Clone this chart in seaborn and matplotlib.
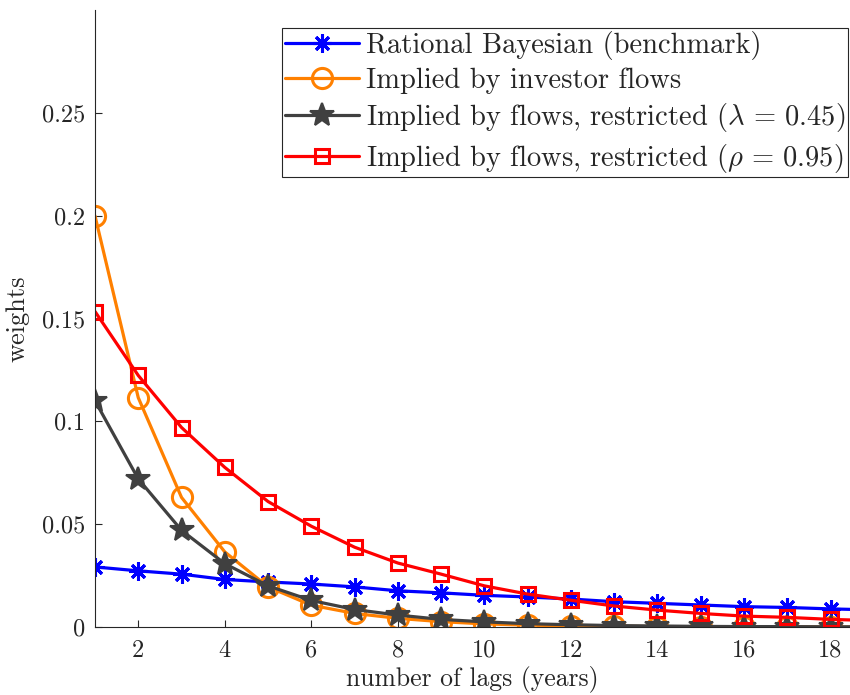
"""
Lag weights: rational benchmark vs. weights implied by investor flows
"""

import numpy as np
import pandas as pd
import matplotlib
matplotlib.use("Agg")
import matplotlib.pyplot as plt
import seaborn as sns

# Data
lags = [1, 2, 3, 4, 5, 6, 7, 8, 9, 10, 11, 12, 13, 14, 15, 16, 17, 18, 19, 20]

rational = [0.0292, 0.0273, 0.0257, 0.0231, 0.0219, 0.0209, 0.0195, 0.0176, 0.0166, 0.0154,
            0.0146, 0.0136, 0.0123, 0.0115, 0.0107, 0.0099, 0.0095, 0.0088, 0.0083, 0.0078]
flows = [0.1999, 0.1115, 0.0630, 0.0365, 0.0195, 0.0106, 0.0066, 0.0042, 0.0026, 0.0015,
         0.0009, 0.0006, 0.0004, 0.0002, 0.0001, 0.0001, 0.0001, 0.0000, 0.0000, 0.0000]
flows_lambda = [0.1100, 0.0720, 0.0470, 0.0308, 0.0200, 0.0129, 0.0085, 0.0058, 0.0037, 0.0025,
                0.0016, 0.0011, 0.0007, 0.0005, 0.0003, 0.0002, 0.0002, 0.0001, 0.0001, 0.0001]
flows_rho = [0.1534, 0.1223, 0.0970, 0.0776, 0.0610, 0.0490, 0.0388, 0.0311, 0.0257, 0.0200,
             0.0160, 0.0130, 0.0102, 0.0082, 0.0066, 0.0053, 0.0047, 0.0037, 0.0031, 0.0026]

series_names = [
    "Rational Bayesian (benchmark)",
    "Implied by investor flows",
    r"Implied by flows, restricted ($\lambda\,=\,0.45$)",
    r"Implied by flows, restricted ($\rho\,=\,0.95$)",
]

x_ticks = [2, 4, 6, 8, 10, 12, 14, 16, 18]
y_ticks = [0, 0.05, 0.1, 0.15, 0.2, 0.25]
y_tick_labels = ["0", "0.05", "0.1", "0.15", "0.2", "0.25"]

# Styles (MATLAB-like); edge colour set explicitly, seaborn defaults it to white
STYLES = [
    dict(color="#0000ff", marker=(8, 2, 0), markersize=13, markeredgewidth=2.2,
         markeredgecolor="#0000ff"),
    dict(color="#ff8000", marker="o", markersize=14.5, markeredgewidth=2.2,
         markeredgecolor="#ff8000", markerfacecolor="none"),
    dict(color="#404040", marker="*", markersize=18, markeredgewidth=1.5,
         markeredgecolor="#404040", markerfacecolor="#404040"),
    dict(color="#ff0000", marker="s", markersize=10.5, markeredgewidth=2.2,
         markeredgecolor="#ff0000", markerfacecolor="none"),
]

sns.set_theme(style="ticks")
plt.rcParams["font.family"] = ["cmr10", "DejaVu Serif"]
plt.rcParams["mathtext.fontset"] = "cm"
plt.rcParams["axes.formatter.use_mathtext"] = True


def main():
    df = pd.DataFrame({"lag": lags})
    values = [rational, flows, flows_lambda, flows_rho]

    fig = plt.figure(figsize=(8.5, 6.95), dpi=100)
    ax = fig.add_axes([95 / 850, 68 / 695, 755 / 850, 617 / 695])

    for name, vals, style in zip(series_names, values, STYLES):
        df[name] = vals
        sns.lineplot(data=df, x="lag", y=name, ax=ax, label=name,
                     linewidth=2.3, **style)

    ax.set_xlim(1, 18.45)
    ax.set_ylim(0, 0.3)
    ax.set_xticks(x_ticks)
    ax.set_xticklabels([str(t) for t in x_ticks])
    ax.set_yticks(y_ticks)
    ax.set_yticklabels(y_tick_labels)
    ax.tick_params(direction="in", length=5, width=0.8, colors="#262626",
                   labelsize=17.5, pad=7)
    ax.tick_params(axis="x", pad=9)

    for side in ["top", "right"]:
        ax.spines[side].set_visible(False)
    for side in ["left", "bottom"]:
        ax.spines[side].set_color("#262626")
        ax.spines[side].set_linewidth(0.8)

    ax.set_xlabel("number of lags (years)", fontsize=18.5, color="#262626", labelpad=3)
    ax.set_ylabel("weights", fontsize=19, color="#262626", labelpad=9)

    leg = ax.legend(loc="upper right", bbox_to_anchor=(848 / 850, 667 / 695),
                    bbox_transform=fig.transFigure, borderaxespad=0,
                    fontsize=20.5, frameon=True, fancybox=False, framealpha=1,
                    handlelength=2.6, handletextpad=0.25, labelspacing=0.26,
                    borderpad=0.1, numpoints=1)
    leg.get_frame().set_edgecolor("#262626")
    leg.get_frame().set_linewidth(0.8)

    fig.savefig("out.png", dpi=100)
    plt.close(fig)


if __name__ == "__main__":
    main()
